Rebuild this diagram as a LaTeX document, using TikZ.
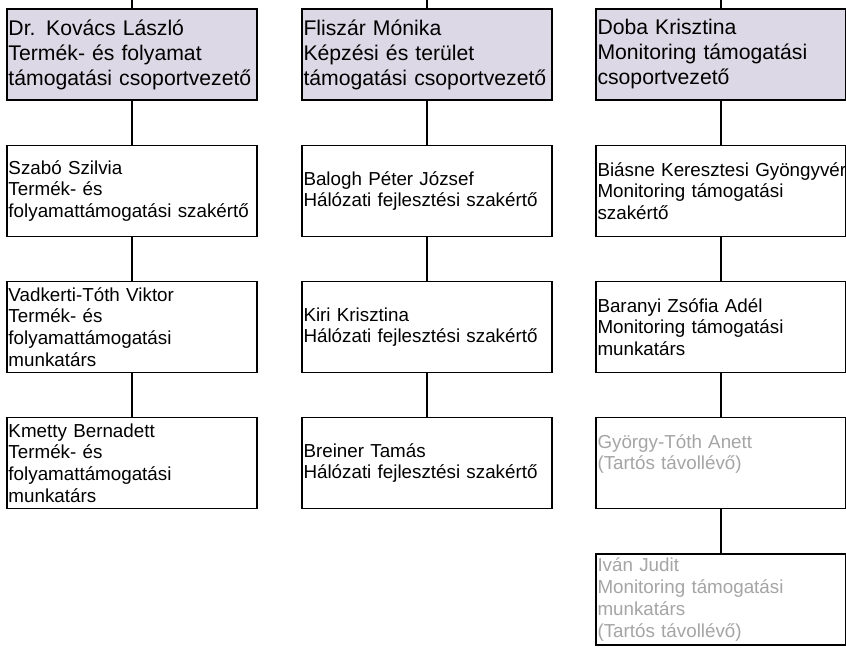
\documentclass[tikz,border=0pt]{standalone}
\usepackage{fontspec}
\setmainfont{Liberation Sans}
\definecolor{headfill}{RGB}{221,216,229}
\definecolor{absent}{RGB}{165,165,165}
\tikzset{
  box/.style={draw=black, line width=1.7pt, rectangle, minimum width=250pt, minimum height=91pt,
    text width=247pt, inner xsep=1.5pt, inner ysep=0pt, align=left, fill=white,
    font=\fontsize{18.8}{21.7}\selectfont},
  headbox/.style={box, fill=headfill, font=\fontsize{21.2}{25}\selectfont},
  awaybox/.style={box, text=absent},
  link/.style={draw=black, line width=1.7pt}
}
\begin{document}
\begin{tikzpicture}[x=1pt, y=-1pt]
\useasboundingbox (0,0) rectangle (846,649);
% column tops
\coordinate (t1) at (132,0);
\coordinate (t2) at (427,0);
\coordinate (t3) at (721,0);
% column 1
\node[headbox] (a0) at (132,54.5) {Dr. Kovács László\\Termék- és folyamat\\támogatási csoportvezető};
\node[box] (a1) at (132,191) {Szabó Szilvia\\Termék- és\\folyamattámogatási szakértő};
\node[box] (a2) at (132,327) {Vadkerti-Tóth Viktor\\Termék- és\\folyamattámogatási\\munkatárs};
\node[box] (a3) at (132,463) {Kmetty Bernadett\\Termék- és\\folyamattámogatási\\munkatárs};
% column 2
\node[headbox] (b0) at (427,54.5) {Fliszár Mónika\\Képzési és terület\\támogatási csoportvezető};
\node[box] (b1) at (427,191) {Balogh Péter József\\Hálózati fejlesztési szakértő};
\node[box] (b2) at (427,327) {Kiri Krisztina\\Hálózati fejlesztési szakértő};
\node[box] (b3) at (427,463) {Breiner Tamás\\Hálózati fejlesztési szakértő};
% column 3
\node[headbox] (c0) at (721,54.5) {Doba Krisztina\\Monitoring támogatási\\csoportvezető};
\node[box] (c1) at (721,191) {\mbox{Biásne Keresztesi Gyöngyvér}\\Monitoring támogatási\\szakértő};
\node[box] (c2) at (721,327) {Baranyi Zsófia Adél\\Monitoring támogatási\\munkatárs};
\node[awaybox] (c3) at (721,463) {György-Tóth Anett\\(Tartós távollévő)\\\mbox{}};
\node[awaybox] (c4) at (721,599.5) {Iván Judit\\Monitoring támogatási\\munkatárs\\(Tartós távollévő)};
% connectors
\draw[link] (t1) -- (a0.north);
\draw[link] (t2) -- (b0.north);
\draw[link] (t3) -- (c0.north);
\draw[link] (a0) -- (a1);
\draw[link] (a1) -- (a2);
\draw[link] (a2) -- (a3);
\draw[link] (b0) -- (b1);
\draw[link] (b1) -- (b2);
\draw[link] (b2) -- (b3);
\draw[link] (c0) -- (c1);
\draw[link] (c1) -- (c2);
\draw[link] (c2) -- (c3);
\draw[link] (c3) -- (c4);
\end{tikzpicture}
\end{document}
